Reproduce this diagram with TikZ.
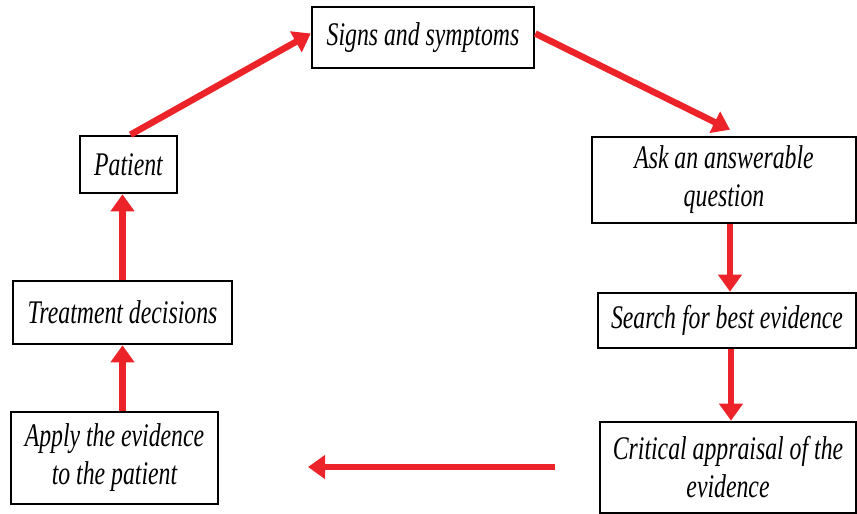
\documentclass[tikz,border=0pt]{standalone}
\usepackage{fontspec}
\usepackage{tikz}
\usetikzlibrary{arrows.meta,positioning}
\newfontfamily\boxfont[FakeStretch=0.72]{Liberation Serif}
\definecolor{flowred}{RGB}{236,36,42}
\tikzstyle{stepbox}=[draw=black,line width=2.6pt,rectangle,align=center,inner sep=0pt,font=\boxfont\itshape\fontsize{33}{38}\selectfont]
\tikzstyle{flow}=[color=flowred,line width=6.5pt,-{Triangle[length=17pt,width=23pt]}]

\begin{document}
\begin{tikzpicture}[x=1pt,y=1pt]
	\useasboundingbox (0,0) rectangle (857,514);

	\node[stepbox,minimum width=222pt,minimum height=61pt]	(sig)	at (423,476.5)	{Signs and symptoms};
	\node[stepbox,minimum width=97pt,minimum height=57pt]	(pat)	at (128.5,349.5)	{Patient};
	\node[stepbox,minimum width=264pt,minimum height=86pt]	(ask)	at (724,334)	{Ask an answerable\\question};
	\node[stepbox,minimum width=219pt,minimum height=63pt]	(treat)	at (122.5,201.5)	{Treatment decisions};
	\node[stepbox,minimum width=258pt,minimum height=55pt]	(search)	at (727,193.5)	{Search for best evidence};
	\node[stepbox,minimum width=256pt,minimum height=91pt]	(crit)	at (728,46.5)	{Critical appraisal of the\\evidence};
	\node[stepbox,minimum width=207pt,minimum height=92pt]	(apply)	at (114.5,56)	{Apply the evidence\\to the patient};

	\coordinate (gapR) at (555,47);
	\coordinate (gapL) at (308,47);

	\draw[flow] ([xshift=2pt]pat.north) -- ([yshift=4pt]sig.west);
	\draw[flow] ([yshift=4pt]sig.east) -- ([xshift=6pt,yshift=6pt]ask.north);
	\draw[flow] ([xshift=6pt]ask.south) -- ([xshift=6pt]ask.south |- search.north);
	\draw[flow] ([xshift=4pt]search.south) -- ([xshift=4pt]search.south |- crit.north);
	\draw[flow] (gapR) -- (gapL);
	\draw[flow] (treat.south |- apply.north) -- (treat.south);
	\draw[flow] (treat.north) -- (treat.north |- pat.south);
\end{tikzpicture}
\end{document}
